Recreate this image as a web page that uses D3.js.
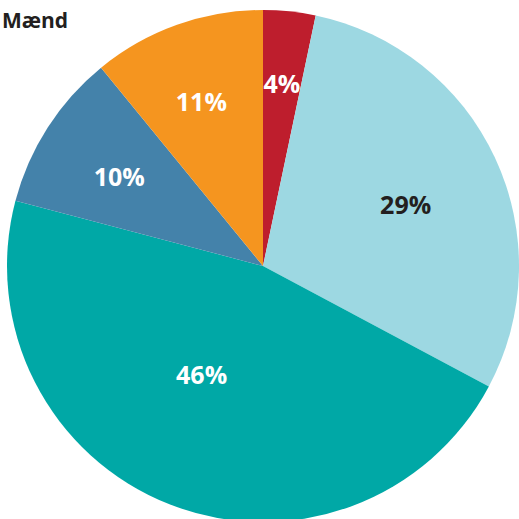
<!DOCTYPE html>
<html>
<head>
<meta charset="utf-8">
<script src="https://cdn.jsdelivr.net/npm/d3@7"></script>
<style>
  html, body { margin: 0; padding: 0; background: #fff; }
  svg { display: block; }
</style>
</head>
<body>
<div id="chart"></div>
<script>
// data, clockwise from 12 o'clock
const categories = ["a", "b", "c", "d", "e"]
const shares = [3.3, 29.5, 46.3, 10.0, 10.9]
const labels = ["4%", "29%", "46%", "10%", "11%"]

// styling
const colors = ["#be1e2d", "#9dd8e2", "#00a8a6", "#4482aa", "#f5951f"]
const labelColors = ["#fff", "#231f20", "#fff", "#fff", "#fff"]
// label placement: [radius, angle nudge in degrees]
const labelPlacement = [[183, 0], [155, 2], [125, 8], [169, -1], [175, -1]]

const width = 519
const height = 519
const cx = 263
const cy = 266
const radius = 256

const svg = d3
  .select("#chart")
  .append("svg")
  .attr("width", width)
  .attr("height", height)

const g = svg.append("g").attr("transform", `translate(${cx} ${cy})`)

const pie = d3.pie().value((d) => d).sort(null)
const arcs = pie(shares)

const arc = d3.arc().innerRadius(0).outerRadius(radius)

g.selectAll("path")
  .data(arcs)
  .enter()
  .append("path")
  .attr("d", arc)
  .attr("fill", (d, i) => colors[i])

/*
 * labels
 */
g.selectAll("text")
  .data(arcs)
  .enter()
  .append("text")
  .attr("transform", (d, i) => {
    const [r, nudge] = labelPlacement[i]
    const a = (d.startAngle + d.endAngle) / 2 + (nudge * Math.PI) / 180
    return `translate(${r * Math.sin(a)} ${-r * Math.cos(a)})`
  })
  .attr("text-anchor", "middle")
  .attr("dy", "0.36em")
  .attr("fill", (d, i) => labelColors[i])
  .style("font-family", "'Open Sans', sans-serif")
  .style("font-weight", 700)
  .style("font-size", "25px")
  .text((d, i) => labels[i])

svg
  .append("text")
  .attr("x", 2)
  .attr("y", 28)
  .attr("fill", "#231f20")
  .style("font-family", "'Open Sans', sans-serif")
  .style("font-weight", 700)
  .style("font-size", "21px")
  .text("Mænd")
</script>
</body>
</html>
